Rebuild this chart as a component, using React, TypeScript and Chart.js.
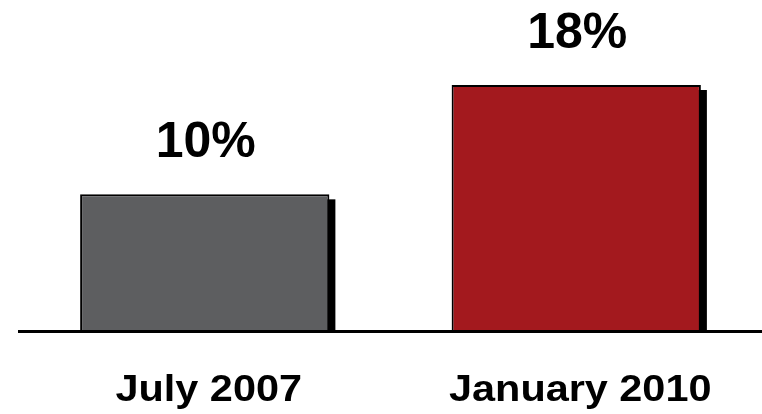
import React, { useEffect, useRef } from "react";
import { Chart, registerables } from "chart.js";

Chart.register(...registerables);

const categories = ["July 2007", "January 2010"];
const values = [10, 18];
const valueLabels = ["10%", "18%"];
const barColors = ["#5d5e60", "#a3191e"];

const shadowPlugin = {
  id: "barShadow",
  beforeDatasetsDraw(chart: any) {
    const ctx = chart.ctx;
    const meta = chart.getDatasetMeta(0);
    ctx.save();
    ctx.fillStyle = "#000000";
    meta.data.forEach((bar: any) => {
      const w = bar.width;
      const left = bar.x - w / 2;
      const top = bar.y;
      const h = bar.base - bar.y;
      ctx.fillRect(left + 6, top + 5, w, h - 5);
    });
    ctx.restore();
  },
};

const labelPlugin = {
  id: "labels",
  afterDraw(chart: any) {
    const ctx = chart.ctx;
    const meta = chart.getDatasetMeta(0);
    const xScale = chart.scales.x;
    const area = chart.chartArea;
    ctx.save();
    ctx.strokeStyle = "#000000";
    ctx.lineWidth = 3;
    ctx.beginPath();
    ctx.moveTo(area.left - 1, area.bottom + 0.5);
    ctx.lineTo(chart.width, area.bottom + 0.5);
    ctx.stroke();
    ctx.fillStyle = "#000000";
    ctx.textAlign = "center";
    ctx.textBaseline = "alphabetic";
    ctx.font = "bold 50px 'Liberation Sans', Arial, sans-serif";
    meta.data.forEach((bar: any, i: number) => {
      ctx.fillText(valueLabels[i], bar.x + 1, bar.y - 37);
    });
    ctx.font = "bold 36px 'Liberation Sans', Arial, sans-serif";
    categories.forEach((c, i) => {
      const x = xScale.getPixelForTick(i);
      ctx.save();
      ctx.translate(x + 4, 401);
      ctx.scale(1.15, 1);
      ctx.fillText(c, 0, 0);
      ctx.restore();
    });
    ctx.restore();
  },
};

export default function App() {
  const ref = useRef<HTMLCanvasElement | null>(null);
  useEffect(() => {
    if (!ref.current) return;
    const chart = new Chart(ref.current, {
      type: "bar",
      data: {
        labels: categories,
        datasets: [
          {
            data: values,
            backgroundColor: barColors,
            borderColor: "#000000",
            borderWidth: 2,
            categoryPercentage: 1,
            barPercentage: 0.671,
          },
        ],
      },
      options: {
        animation: false,
        responsive: false,
        maintainAspectRatio: false,
        layout: { padding: { left: 19, right: 0, top: 3, bottom: 83 } },
        plugins: { legend: { display: false }, tooltip: { enabled: false } },
        scales: {
          x: {
            grid: { display: false, drawTicks: false },
            ticks: { display: false },
            border: { display: false },
          },
          y: {
            display: false,
            min: 0,
            max: 24,
          },
        },
      },
      plugins: [shadowPlugin, labelPlugin],
    });
    return () => chart.destroy();
  }, []);
  return (
    <div style={{ position: "fixed", left: 0, top: 0, width: 762, height: 414, background: "#fff" }}>
      <canvas ref={ref} width={762} height={414} style={{ width: 762, height: 414 }} />
    </div>
  );
}
